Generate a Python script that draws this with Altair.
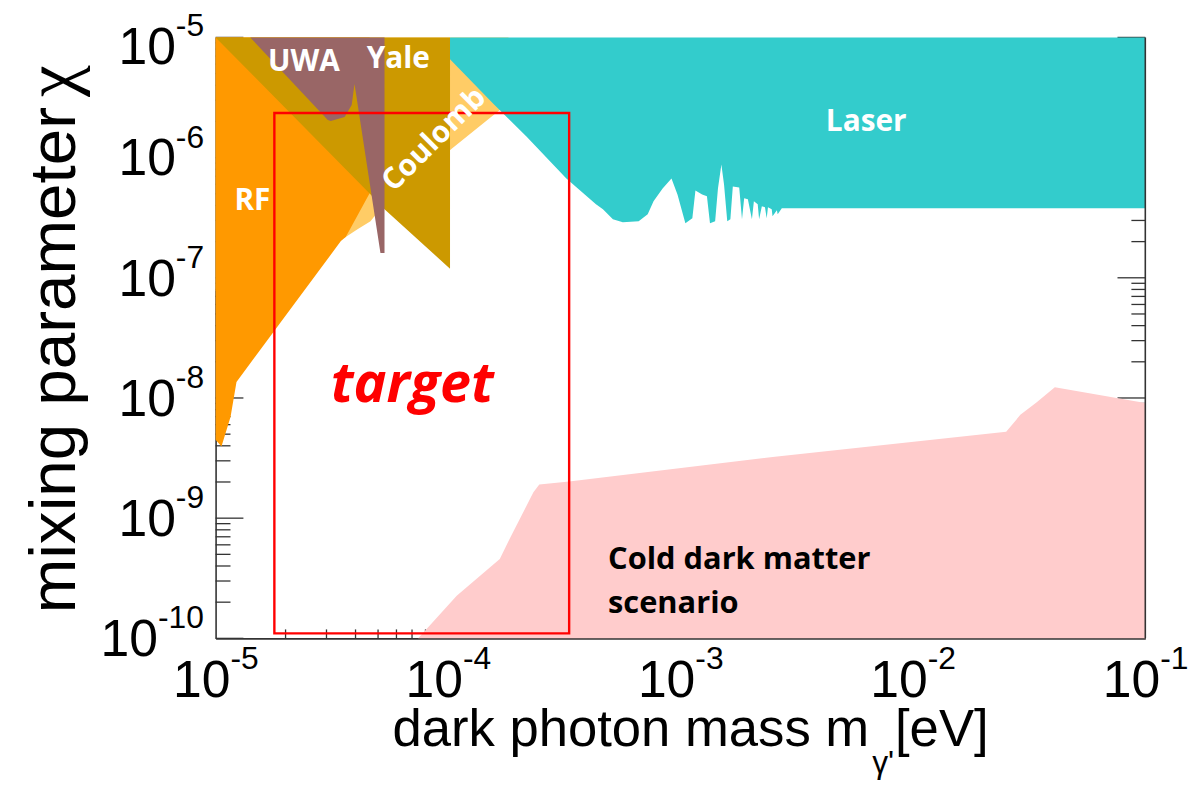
import altair as alt
import pandas as pd

# ---------------- data ----------------
# Laser (cyan): lower edge of excluded region (upper edge = top of frame)
laser_m = [1.02e-4, 1.57e-4, 2.18e-4, 3.23e-4, 4.33e-4, 4.64e-4, 5.12e-4, 5.65e-4, 6.61e-4,
           7.23e-4, 7.66e-4, 8.38e-4, 9.15e-4, 9.71e-4, 1.05e-3, 1.125e-3, 1.16e-3, 1.24e-3,
           1.30e-3, 1.34e-3, 1.41e-3, 1.45e-3, 1.50e-3, 1.54e-3, 1.59e-3, 1.64e-3, 1.68e-3,
           1.79e-3, 1.84e-3, 1.88e-3, 1.95e-3, 2.03e-3, 2.07e-3, 2.15e-3, 2.18e-3, 2.24e-3,
           2.31e-3, 2.35e-3, 2.38e-3, 2.47e-3, 2.49e-3, 2.60e-3, 2.62e-3, 2.73e-3, 0.1]
laser_chi = [6.58e-6, 2.79e-6, 1.49e-6, 6.7e-7, 4.09e-7, 3.72e-7, 3.07e-7, 2.90e-7, 2.96e-7,
             3.38e-7, 4.33e-7, 5.54e-7, 6.7e-7, 4.94e-7, 2.85e-7, 3.13e-7, 5.33e-7, 4.94e-7,
             4.76e-7, 2.85e-7, 2.96e-7, 5.54e-7, 8.75e-7, 5.98e-7, 2.96e-7, 3.07e-7, 5.76e-7,
             5.65e-7, 3.07e-7, 4.58e-7, 4.50e-7, 3.07e-7, 4.33e-7, 4.09e-7, 3.07e-7, 3.94e-7,
             3.86e-7, 3.13e-7, 3.86e-7, 3.72e-7, 3.25e-7, 3.65e-7, 3.38e-7, 3.79e-7, 3.79e-7]

# Yale / dark gold region: lower edge
gold_m = [1e-5, 4.69e-5, 5.33e-5, 1.02e-4]
gold_chi = [1e-5, 4.85e-7, 3.72e-7, 1.19e-7]

# UWA (mauve): lower edge
uwa_m = [1.41e-5, 3.04e-5, 3.13e-5, 3.59e-5, 3.85e-5, 3.96e-5, 5.12e-5, 5.33e-5]
uwa_chi = [1e-5, 2.06e-6, 2.02e-6, 2.18e-6, 2.74e-6, 4.09e-6, 1.61e-7, 1.61e-7]

# RF (orange): lower edge
rf_m = [1e-5, 1.06e-5, 1.16e-5, 1.23e-5, 3.46e-5, 3.63e-5, 4.60e-5]
rf_chi = [4.50e-9, 3.94e-9, 6.97e-9, 1.36e-8, 2.02e-7, 2.18e-7, 5.04e-7]

# Coulomb (light orange): lower edge
coul_m = [1e-5, 2.26e-5, 3.63e-5, 4.08e-5, 4.64e-5, 5.22e-5, 1.04e-4, 1.67e-4, 1.82e-4]
coul_chi = [7.81e-8, 1.49e-7, 2.18e-7, 2.54e-7, 2.96e-7, 3.94e-7, 1.19e-6, 2.49e-6, 2.90e-6]

# Cold dark matter scenario (pink): upper edge
cdm_m = [7.44e-5, 1.09e-4, 1.67e-4, 1.84e-4, 2.33e-4, 2.47e-4, 3.32e-4, 2.55e-3,
         2.52e-2, 2.90e-2, 3.39e-2, 4.08e-2, 0.1]
cdm_chi = [1e-10, 2.26e-10, 4.58e-10, 6.71e-10, 1.64e-9, 1.91e-9, 2.02e-9, 3.25e-9,
           5.24e-9, 7.24e-9, 9.14e-9, 1.23e-8, 9.1e-9]

# target box
target_m = [1.79e-5, 3.32e-4]
target_chi = [1.10e-10, 2.35e-6]

# region labels
lab_text = ["UWA", "Yale", "Laser", "RF"]
lab_m = [2.40e-5, 6.11e-5, 6.30e-3, 1.44e-5]
lab_chi = [6.21e-6, 6.58e-6, 1.98e-6, 4.33e-7]
coul_lab_m = [8.71e-5]
coul_lab_chi = [1.41e-6]
target_lab_m = [7.02e-5]
target_lab_chi = [1.28e-8]
cdm_lab_text = ["Cold dark matter", "scenario"]
cdm_lab_m = [4.88e-4, 4.88e-4]
cdm_lab_chi = [3.79e-10, 1.64e-10]

# axis ticks and tick labels
x_major = [1e-5, 1e-4, 1e-3, 1e-2, 1e-1]
x_exp = ["-5", "-4", "-3", "-2", "-1"]
y_major_top = [1e-5]
y_exp_top = ["-5"]
y_major_a = [1e-6, 1e-7, 1e-8, 1e-9]
y_exp_a = ["-6", "-7", "-8", "-9"]
y_major_b = [1e-10]
y_exp_b = ["-10"]
y_major_all = [1e-10, 1e-9, 1e-8, 1e-7, 1e-6, 1e-5]
y_minor = [k * 10.0 ** e for e in range(-10, -5) for k in range(2, 10)]
x_minor = [k * 10.0 ** e for e in range(-5, -1) for k in range(2, 10)]

# ---------------- chart ----------------
XS = alt.Scale(type="log", domain=[1e-5, 1e-1], nice=False)
YS = alt.Scale(type="log", domain=[1e-10, 1e-5], nice=False)
W, H = 936, 605
LBL = "Liberation Sans"
TXT = "Open Sans"


def xf(f="m"):
    return alt.X(f"{f}:Q", scale=XS, title=None)


def yf(f="chi"):
    return alt.Y(f"{f}:Q", scale=YS, title=None)


def region(m, chi, color):
    df = pd.DataFrame({"m": m, "chi": chi})
    return alt.Chart(df).mark_area(color=color, opacity=1, interpolate="linear").encode(
        x=xf(), y=yf(), y2=alt.datum(1e-5)
    )


def hticks(vals, x0, x1):
    return alt.Chart(pd.DataFrame({"v": vals})).mark_rule(color="#333333", strokeWidth=1.3).encode(
        y=yf("v"), x=alt.value(x0), x2=alt.value(x1)
    )


def label(text, x, y, **kw):
    return alt.Chart(pd.DataFrame({"t": [text]})).mark_text(color="black", **kw).encode(
        x=alt.value(x), y=alt.value(y), text="t:N"
    )


layers = []
# inward ticks (drawn under the coloured regions)
layers.append(hticks(y_major_all, 0, 28))
layers.append(hticks(y_minor, 0, 15))
layers.append(hticks(y_major_all, W, W - 28))
layers.append(hticks(y_minor, W, W - 14))
layers.append(
    alt.Chart(pd.DataFrame({"v": x_minor})).mark_rule(color="#333333", strokeWidth=1.3).encode(
        x=xf("v"), y=alt.value(H), y2=alt.value(H - 9)
    )
)

# coloured regions
layers.append(region(cdm_m, cdm_chi, "#FFCCCC").encode(y2=alt.datum(1e-10)))
layers.append(region(coul_m, coul_chi, "#FFCC66"))
layers.append(region(rf_m, rf_chi, "#FF9900"))
layers.append(region(gold_m, gold_chi, "#CC9900"))
layers.append(region(uwa_m, uwa_chi, "#996666"))
layers.append(region(laser_m, laser_chi, "#33CCCC"))

# right frame line
layers.append(
    alt.Chart(pd.DataFrame({"m": [0.1]})).mark_rule(color="#333333", strokeWidth=1.6).encode(
        x=xf(), y=alt.datum(1e-10), y2=alt.datum(1e-5)
    )
)

# target box
layers.append(
    alt.Chart(pd.DataFrame({"m": [target_m[0]], "m2": [target_m[1]],
                            "chi": [target_chi[0]], "chi2": [target_chi[1]]}))
    .mark_rect(fill=None, fillOpacity=0, stroke="#FF0000", strokeWidth=2.4)
    .encode(x=xf(), x2="m2:Q", y=yf(), y2="chi2:Q")
)

# region labels
layers.append(
    alt.Chart(pd.DataFrame({"m": lab_m, "chi": lab_chi, "t": lab_text}))
    .mark_text(font=TXT, fontWeight="bold", fontSize=30, color="white", align="center", baseline="middle")
    .encode(x=xf(), y=yf(), text="t:N")
)
layers.append(
    alt.Chart(pd.DataFrame({"m": coul_lab_m, "chi": coul_lab_chi, "t": ["Coulomb"]}))
    .mark_text(font=TXT, fontWeight="bold", fontSize=30, color="white", align="center",
               baseline="middle", angle=315)
    .encode(x=xf(), y=yf(), text="t:N")
)
layers.append(
    alt.Chart(pd.DataFrame({"m": target_lab_m, "chi": target_lab_chi, "t": ["target"]}))
    .mark_text(font=TXT, fontWeight="bold", fontStyle="italic", fontSize=56, color="#FF0000",
               align="center", baseline="middle")
    .encode(x=xf(), y=yf(), text="t:N")
)
layers.append(
    alt.Chart(pd.DataFrame({"m": cdm_lab_m, "chi": cdm_lab_chi, "t": cdm_lab_text}))
    .mark_text(font=TXT, fontWeight="bold", fontSize=31, color="black", align="left",
               baseline="alphabetic")
    .encode(x=xf(), y=yf(), text="t:N")
)

# x tick labels: "10" + superscript exponent
xl = pd.DataFrame({"v": x_major, "e": x_exp, "b": ["10"] * len(x_major)})
layers.append(
    alt.Chart(xl).mark_text(font=LBL, fontSize=52, color="black", align="right", dx=15,
                            baseline="alphabetic")
    .encode(x=xf("v"), y=alt.value(H + 59), text="b:N")
)
layers.append(
    alt.Chart(xl).mark_text(font=LBL, fontSize=32, color="black", align="left", dx=15,
                            baseline="alphabetic")
    .encode(x=xf("v"), y=alt.value(H + 31), text="e:N")
)

# y tick labels
for vals, exps, xr, shift in [(y_major_top, y_exp_top, -40, 9),
                              (y_major_a, y_exp_a, -40, 0),
                              (y_major_b, y_exp_b, -58, 0)]:
    yl = pd.DataFrame({"v": vals, "e": exps, "b": ["10"] * len(vals)})
    layers.append(
        alt.Chart(yl).mark_text(font=LBL, fontSize=52, color="black", align="right", dy=18 + shift,
                                baseline="alphabetic")
        .encode(y=yf("v"), x=alt.value(xr), text="b:N")
    )
    layers.append(
        alt.Chart(yl).mark_text(font=LBL, fontSize=32, color="black", align="left", dy=-10 + shift,
                                baseline="alphabetic")
        .encode(y=yf("v"), x=alt.value(xr), text="e:N")
    )

# axis titles
layers.append(label("mixing parameter", -162, 70, font=LBL, fontSize=66, align="right",
                    baseline="middle", angle=270))
layers.append(label("\u03c7", -164, 60, font="Liberation Serif", fontSize=72, align="left",
                    baseline="middle", angle=270))
layers.append(label("dark photon mass m", 658, 713, font=LBL, fontSize=53, align="right",
                    baseline="alphabetic"))
layers.append(label("\u03b3'", 661, 741, font=LBL, fontSize=32, align="left", baseline="alphabetic"))
layers.append(label("[eV]", 684, 713, font=LBL, fontSize=53, align="left", baseline="alphabetic"))

chart = (
    alt.layer(*layers)
    .properties(
        width=W,
        height=H,
        autosize=alt.AutoSizeParams(type="none"),
        padding={"left": 209, "top": 27, "right": 45, "bottom": 142},
        background="white",
    )
    .configure_view(stroke=None)
    .configure_axis(grid=False, labels=False, ticks=False, domainColor="#333333", domainWidth=1.6)
    .configure_axisX(zindex=1)
    .configure_axisY(zindex=0)
)

chart.save("out.html", embed_options={"renderer": "svg", "actions": False})
